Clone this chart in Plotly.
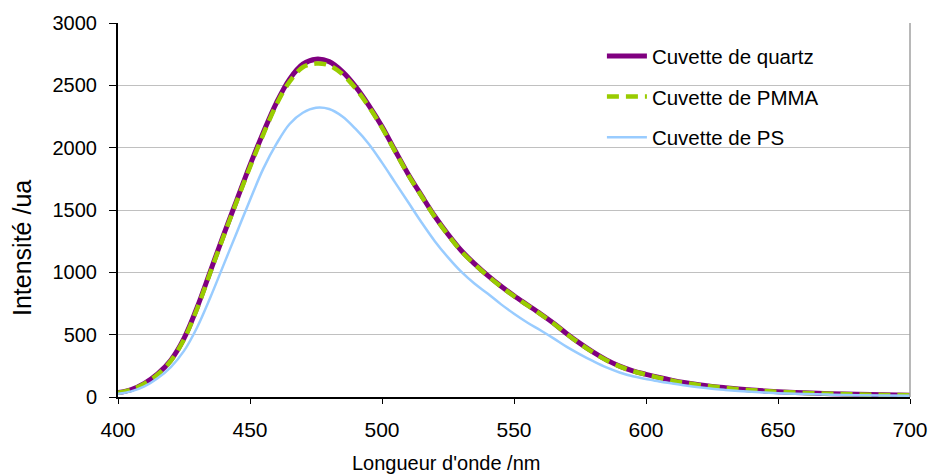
import plotly.graph_objects as go

wavelength = [400, 405, 410, 415, 420, 425, 430, 435, 440, 445, 450, 455, 460, 465, 470, 475,
              480, 485, 490, 495, 500, 505, 510, 515, 520, 525, 530, 535, 540, 545, 550, 555,
              560, 565, 570, 575, 580, 585, 590, 595, 600, 605, 610, 615, 620, 625, 630, 635,
              640, 645, 650, 660, 670, 680, 690, 700]

quartz = [35, 60, 110, 185, 295, 470, 720, 1010, 1300, 1580, 1860, 2120, 2360, 2550, 2670, 2710,
          2690, 2610, 2490, 2340, 2170, 1975, 1785, 1615, 1450, 1305, 1175, 1070, 975, 890, 812, 740,
          668, 592, 508, 430, 360, 298, 248, 210, 182, 156, 133, 114, 98, 85, 74, 64,
          56, 49, 43, 34, 27, 22, 18, 15]

pmma = [33, 58, 107, 180, 290, 462, 710, 1000, 1290, 1570, 1845, 2105, 2345, 2530, 2645, 2675,
        2660, 2590, 2475, 2330, 2160, 1968, 1780, 1610, 1445, 1300, 1170, 1066, 972, 887, 809, 737,
        665, 589, 505, 427, 357, 295, 246, 208, 180, 154, 131, 112, 97, 84, 73, 63,
        55, 48, 42, 33, 26, 21, 17, 14]

ps = [25, 45, 85, 150, 240, 370, 560, 800, 1060, 1320, 1580, 1830, 2030, 2190, 2280, 2320,
      2310, 2250, 2150, 2030, 1880, 1720, 1560, 1400, 1250, 1120, 1005, 910, 830, 745, 668, 598,
      535, 470, 402, 342, 287, 237, 197, 166, 145, 125, 108, 92, 78, 66, 57, 49,
      42, 36, 31, 24, 19, 15, 12, 10]

series_names = ["Cuvette de quartz", "Cuvette de PMMA", "Cuvette de PS"]
x_ticks = [400, 450, 500, 550, 600, 650, 700]
y_ticks = [0, 500, 1000, 1500, 2000, 2500, 3000]

FONT = "Liberation Sans, Arial, sans-serif"

fig = go.Figure()
fig.add_trace(go.Scatter(x=wavelength, y=quartz, mode="lines", name=series_names[0],
                         legendgroup="a", line=dict(color="#800080", width=5, shape="spline")))
fig.add_trace(go.Scatter(x=wavelength, y=pmma, mode="lines", name=series_names[1],
                         legendgroup="b", line=dict(color="#99CC00", width=4.5, shape="spline",
                                                    dash="12px,7px")))
fig.add_trace(go.Scatter(x=wavelength, y=ps, mode="lines", name=series_names[2],
                         legendgroup="c", line=dict(color="#99CCFF", width=2.5, shape="spline")))

fig.update_layout(
    width=931, height=474,
    margin=dict(l=118, r=21, t=23, b=77, autoexpand=False),
    paper_bgcolor="white", plot_bgcolor="white",
    font=dict(family=FONT, color="black"),
    showlegend=True,
    legend=dict(x=0.611, y=0.965, xanchor="left", yanchor="top",
                bgcolor="rgba(0,0,0,0)", font=dict(size=20.5, family=FONT),
                tracegroupgap=11, itemwidth=40),
    xaxis=dict(range=[400, 700], tickvals=x_ticks, showgrid=False, zeroline=False,
               automargin=False,
               showline=True, linecolor="black", linewidth=2,
               ticks="outside", ticklen=5, tickcolor="black", tickwidth=1,
               tickfont=dict(size=21, family=FONT), ticklabelstandoff=8),
    yaxis=dict(range=[0, 3000], tickvals=y_ticks, showgrid=True, gridcolor="#C0C0C0",
               gridwidth=1.3, zeroline=False, automargin=False,
               showline=True, linecolor="black", linewidth=2,
               ticks="outside", ticklen=7, tickcolor="black", tickwidth=1,
               tickfont=dict(size=20, family=FONT), ticklabelstandoff=8),
    shapes=[
        dict(type="rect", xref="paper", yref="paper", x0=0.524, x1=0.97, y0=0.634, y1=0.99,
             fillcolor="white", line=dict(width=0), layer="between"),
        dict(type="line", xref="paper", yref="paper", x0=1, x1=1, y0=0, y1=1,
             line=dict(color="#A0A0A0", width=1.5)),
    ],
    annotations=[
        dict(text="Longueur d'onde /nm", xref="paper", yref="paper", x=(446 - 118) / 792,
             y=(397 - 463) / 374, xanchor="center", yanchor="middle", showarrow=False,
             font=dict(size=20, family=FONT)),
        dict(text="Intensité /ua", xref="paper", yref="paper", x=(22 - 118) / 792,
             y=(397 - 248) / 374, xanchor="center", yanchor="middle", showarrow=False,
             textangle=-90, font=dict(size=25, family=FONT)),
    ],
)

fig.write_html("out.html")
